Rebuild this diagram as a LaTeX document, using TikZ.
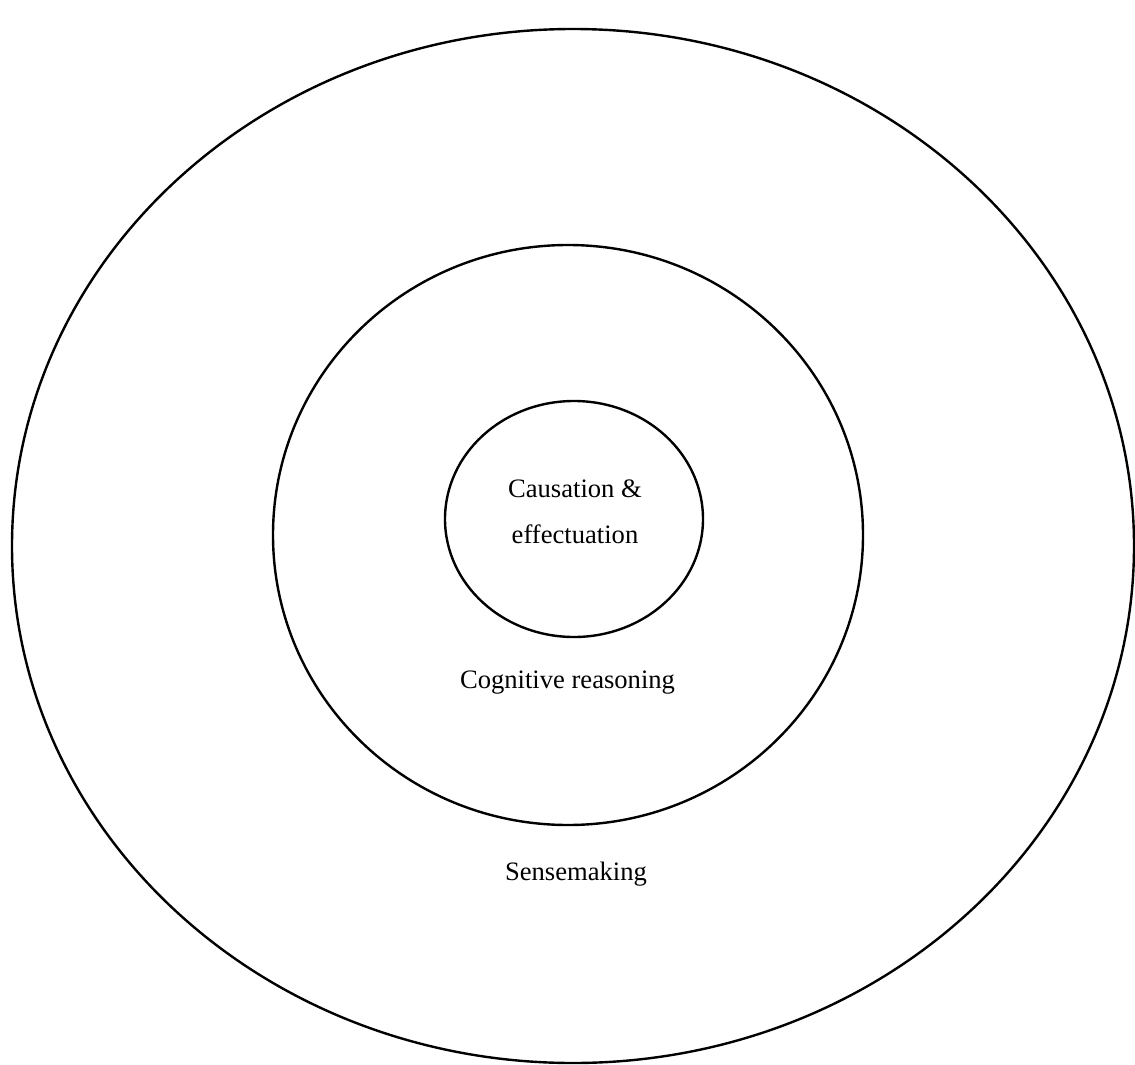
\documentclass[tikz,border=0pt]{standalone}
\usepackage{fontspec}
\setmainfont{Liberation Serif}
\begin{document}
\begin{tikzpicture}[x=1pt,y=-1pt,
  ring/.style={draw=black,line width=2.4pt},
  lbl/.style={anchor=base,inner sep=0pt,font=\fontsize{26.6}{46}\selectfont}]
\useasboundingbox (0,0) rectangle (1135,1065);
\draw[ring] (573,546) ellipse [x radius=561,y radius=517];
\draw[ring] (568,535) ellipse [x radius=295,y radius=290];
\draw[ring] (574,519) ellipse [x radius=129,y radius=118];
\node[lbl] (c1) at (575,497) {Causation \&};
\node[lbl] (c2) at (575,543) {effectuation};
\node[lbl] (cog) at (567.5,688) {Cognitive reasoning};
\node[lbl] (sen) at (576,880) {Sensemaking};
\end{tikzpicture}
\end{document}
